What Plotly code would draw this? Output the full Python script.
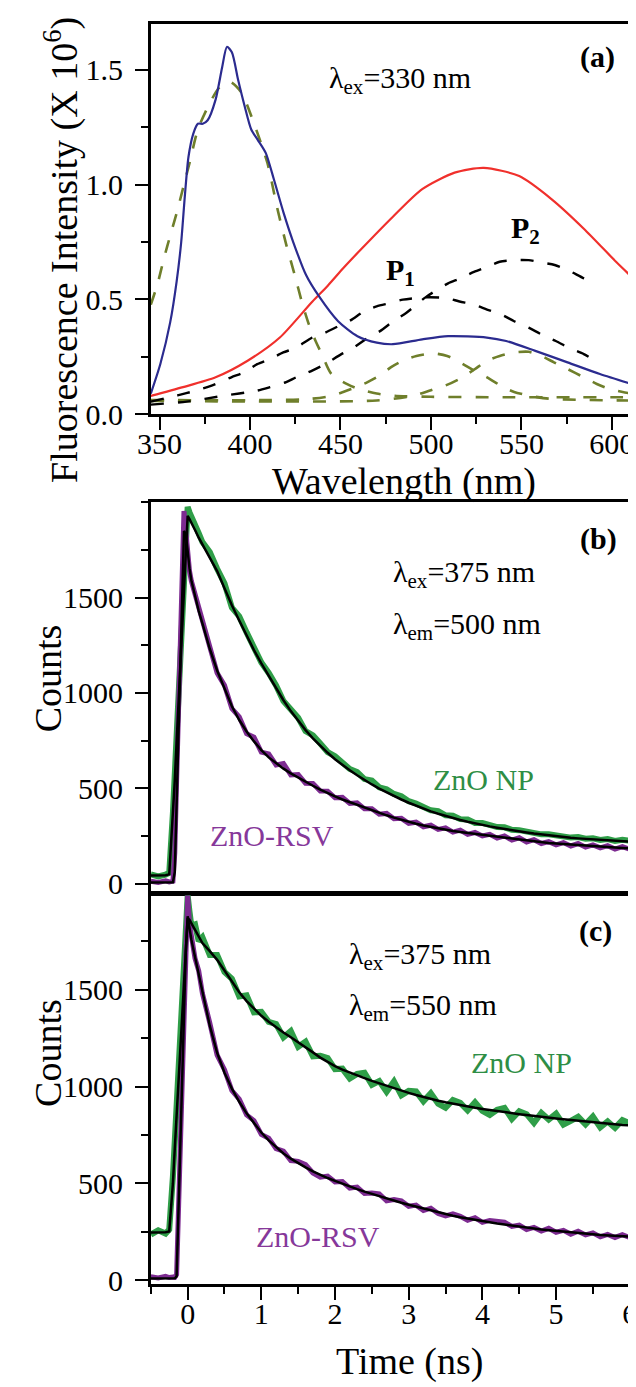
import plotly.graph_objects as go

W, H = 636, 1387


def px(x):
    return x / W


def py(y):
    return 1 - y / H


# ---------------- Panel (a): steady-state emission ----------------
BLUE_X = [345.2, 350.5, 355.9, 359.5, 362.0, 364.0, 366.0, 368.6, 371.2, 373.9, 376.6, 381.0,
          384.6, 387.3, 390.0, 393.5, 397.1, 400.7, 404.2, 408.7, 413.2, 418.5, 423.9, 431.0,
          438.0, 448.7, 459.4, 470.1, 479.0, 495.2, 509.5, 530.9, 541.6, 557.7, 575.5, 593.4, 610.7]
BLUE_Y = [0.09, 0.22, 0.40, 0.58, 0.75, 0.95, 1.12, 1.22, 1.265, 1.265, 1.28, 1.37,
          1.51, 1.60, 1.576, 1.454, 1.34, 1.24, 1.196, 1.138, 1.023, 0.879, 0.75, 0.606,
          0.515, 0.405, 0.34, 0.312, 0.305, 0.326, 0.34, 0.334, 0.319, 0.276, 0.226, 0.175, 0.132]

RED_X = [345.2, 363.0, 381.0, 398.7, 416.5, 434.4, 443.0, 452.0, 461.0, 479.0, 495.2, 513.1,
         529.2, 548.8, 566.6, 584.5, 602.3, 610.7]
RED_Y = [0.08, 0.118, 0.161, 0.233, 0.334, 0.49, 0.56, 0.64, 0.715, 0.86, 0.98, 1.052,
         1.073, 1.037, 0.937, 0.808, 0.664, 0.60]

P1_X = [345.2, 360.0, 370.0, 378.0, 389.7, 397.0, 404.0, 411.0, 418.4, 425.5, 434.4, 441.5,
        450.5, 455.8, 463.0, 470.0, 477.4, 484.5, 497.0, 508.6, 515.8, 523.8, 531.0, 539.0,
        546.0, 554.0, 561.0, 569.0, 576.0, 584.5, 590.7]
P1_Y = [0.055, 0.082, 0.103, 0.122, 0.161, 0.183, 0.218, 0.24, 0.269, 0.29, 0.334, 0.355,
        0.39, 0.41, 0.448, 0.47, 0.484, 0.499, 0.509, 0.506, 0.491, 0.477, 0.456, 0.434,
        0.405, 0.377, 0.348, 0.319, 0.29, 0.262, 0.233]

P2_X = [345.2, 365.0, 385.0, 404.0, 411.0, 420.0, 425.5, 434.4, 441.5, 450.5, 455.8, 466.5,
        471.9, 479.2, 486.3, 497.0, 509.5, 515.8, 523.8, 531.0, 538.0, 546.0, 554.0, 561.0,
        568.4, 575.5, 584.5, 590.7]
P2_Y = [0.042, 0.055, 0.08, 0.103, 0.118, 0.14, 0.161, 0.19, 0.218, 0.262, 0.283, 0.34,
        0.362, 0.405, 0.441, 0.509, 0.57, 0.59, 0.62, 0.642, 0.664, 0.671, 0.671, 0.661,
        0.65, 0.628, 0.592, 0.571]

G1_X = [345.2, 349.0, 352.5, 356.0, 359.6, 363.2, 366.8, 371.2, 377.5, 382.8, 389.0, 395.3,
        402.5, 409.6, 415.0, 420.0, 424.6, 429.0, 432.6, 436.2, 439.8, 445.0, 454.0, 460.0,
        470.0, 480.0, 500.0, 540.0, 580.0, 610.7]
G1_Y = [0.477, 0.57, 0.68, 0.78, 0.88, 0.99, 1.10, 1.24, 1.35, 1.42, 1.447, 1.40,
        1.26, 1.095, 0.90, 0.74, 0.61, 0.48, 0.39, 0.32, 0.26, 0.175, 0.13, 0.11,
        0.09, 0.08, 0.076, 0.074, 0.074, 0.074]

G2_X = [345.2, 430.0, 445.0, 456.0, 465.0, 472.0, 478.0, 485.0, 492.0, 501.0, 509.0, 516.0,
        524.0, 531.0, 540.0, 546.0, 555.0, 565.0, 580.0, 610.7]
G2_Y = [0.062, 0.065, 0.08, 0.11, 0.14, 0.17, 0.205, 0.235, 0.254, 0.265, 0.254, 0.226,
        0.19, 0.161, 0.118, 0.097, 0.08, 0.068, 0.063, 0.06]

G3_X = [345.2, 470.0, 490.0, 500.0, 508.0, 516.0, 524.0, 531.0, 538.0, 546.0, 554.0, 561.0,
        568.0, 575.5, 584.5, 591.7, 598.8, 606.0, 610.7]
G3_Y = [0.058, 0.06, 0.08, 0.105, 0.125, 0.155, 0.195, 0.233, 0.254, 0.269, 0.272, 0.254,
        0.226, 0.197, 0.161, 0.132, 0.11, 0.097, 0.09]

# ---------------- Panels (b), (c): decays ----------------
T = [-0.5, -0.4, -0.3, -0.25, -0.2, -0.175, -0.15, -0.125, -0.1, -0.075, -0.05, -0.025,
     0.0, 0.025, 0.05, 0.1, 0.15, 0.2,
     0.3, 0.4, 0.5, 0.6, 0.7, 0.8, 0.9, 1.0,
     1.1, 1.2, 1.3, 1.4, 1.5, 1.6, 1.7, 1.8, 1.9, 2.0,
     2.1, 2.2, 2.3, 2.4, 2.5, 2.6, 2.7, 2.8, 2.9, 3.0,
     3.1, 3.2, 3.3, 3.4, 3.5, 3.6, 3.7, 3.8, 3.9, 4.0,
     4.1, 4.2, 4.3, 4.4, 4.5, 4.6, 4.7, 4.8, 4.9, 5.0,
     5.1, 5.2, 5.3, 5.4, 5.5, 5.6, 5.7, 5.8, 5.9, 6.0]

GB_DATA = [48, 37, 47, 56, 372, 580, 778, 985, 1182, 1385, 1580, 1785, 1976, 1948, 1922, 1872, 1838, 1792,
           1740, 1652, 1575, 1448, 1402, 1318, 1236, 1160,
           1105, 1040, 958, 918, 870, 800, 778, 735, 690, 668,
           636, 601, 585, 548, 540, 505, 494, 470, 458, 432,
           420, 404, 384, 380, 358, 356, 338, 336, 318, 318,
           306, 296, 295, 282, 280, 270, 268, 258, 258, 250,
           250, 241, 244, 235, 237, 229, 233, 224, 230, 224]
GB_FIT = [42, 42, 43, 48, 340, 540, 740, 940, 1140, 1340, 1540, 1740, 1930, 1912, 1895, 1855, 1815, 1780,
          1715, 1640, 1550, 1460, 1380, 1300, 1225, 1155,
          1090, 1025, 962, 905, 852, 805, 762, 722, 686, 652,
          622, 594, 568, 543, 520, 498, 478, 459, 441, 424,
          408, 393, 379, 366, 354, 343, 333, 324, 315, 307,
          300, 293, 286, 280, 274, 268, 262, 257, 252, 248,
          244, 240, 237, 234, 231, 228, 226, 224, 222, 220]
PB_DATA = [12, 6, 14, 8, 12, 160, 540, 920, 1300, 1700, 1955, 1850, 1722, 1640, 1588, 1518, 1442, 1372,
           1250, 1105, 1040, 918, 875, 786, 768, 690,
           680, 622, 630, 570, 572, 526, 525, 486, 485, 450,
           452, 420, 424, 392, 392, 364, 368, 340, 342, 316,
           322, 298, 306, 284, 292, 270, 280, 258, 268, 250,
           258, 238, 250, 228, 240, 218, 230, 210, 220, 203,
           215, 197, 210, 191, 203, 187, 199, 181, 194, 180]
PB_FIT = [5, 5, 5, 5, 6, 60, 420, 800, 1180, 1560, 1850, 1835, 1740, 1655, 1592, 1505, 1430, 1365,
          1232, 1118, 1022, 930, 858, 798, 746, 700,
          662, 630, 603, 578, 555, 534, 513, 493, 474, 457,
          441, 427, 412, 398, 383, 371, 358, 346, 334, 323,
          314, 305, 297, 290, 283, 276, 270, 265, 260, 255,
          250, 245, 240, 236, 231, 226, 221, 217, 213, 210,
          207, 204, 201, 198, 196, 194, 191, 189, 187, 185]

GC_DATA = [236, 258, 241, 262, 537, 717, 900, 1080, 1262, 1443, 1625, 1806, 1987, 1905, 1832, 1838, 1752, 1772,
           1680, 1680, 1592, 1557, 1466, 1472, 1384, 1386,
           1335, 1324, 1255, 1287, 1206, 1232, 1157, 1160, 1148, 1091,
           1093, 1042, 1066, 1072, 1010, 1029, 974, 1027, 955, 978,
           975, 924, 966, 912, 891, 931, 916, 877, 919, 875,
           854, 881, 890, 833, 873, 858, 813, 864, 830, 861,
           804, 823, 844, 805, 846, 790, 820, 787, 827, 810]
GC_FIT = [247, 247, 248, 252, 500, 680, 860, 1040, 1220, 1400, 1580, 1760, 1870, 1862, 1845, 1805, 1770, 1742,
          1700, 1655, 1600, 1542, 1488, 1442, 1402, 1366,
          1335, 1306, 1280, 1255, 1230, 1204, 1177, 1150, 1126, 1106,
          1088, 1072, 1058, 1044, 1030, 1017, 1004, 992, 980, 968,
          957, 946, 936, 927, 919, 911, 904, 897, 891, 885,
          879, 873, 868, 863, 858, 853, 848, 844, 840, 836,
          832, 828, 824, 820, 816, 812, 808, 805, 802, 800]
PC_DATA = [18, 12, 20, 14, 16, 15, 30, 345, 674, 1002, 1330, 1660, 1987, 1840, 1775, 1662, 1598, 1482,
           1330, 1163, 1088, 980, 936, 854, 825, 753,
           734, 680, 667, 618, 614, 597, 554, 532, 538, 508,
           510, 476, 481, 448, 450, 446, 410, 417, 410, 382,
           388, 360, 372, 345, 332, 343, 330, 310, 323, 299,
           309, 307, 300, 278, 285, 262, 273, 254, 268, 248,
           258, 238, 253, 234, 245, 224, 237, 221, 235, 221]
PC_FIT = [9, 9, 9, 9, 9, 10, 20, 360, 700, 1040, 1380, 1700, 1880, 1815, 1760, 1670, 1580, 1490,
          1315, 1175, 1072, 990, 922, 862, 810, 763,
          722, 686, 655, 628, 604, 583, 562, 544, 528, 513,
          498, 484, 471, 458, 446, 434, 422, 411, 400, 390,
          380, 370, 360, 351, 342, 333, 325, 318, 311, 305,
          299, 293, 288, 282, 277, 272, 267, 262, 258, 254,
          250, 246, 243, 240, 237, 234, 231, 229, 227, 225]

X_TICKS_A = [350, 400, 450, 500, 550, 600]
Y_TICKS_A = [0.0, 0.5, 1.0, 1.5]
Y_TICKS_BC = [0, 500, 1000, 1500]
X_TICKS_C = [0, 1, 2, 3, 4, 5, 6]

# ---------------- styles ----------------
FONT = "Liberation Serif, Times New Roman, serif"
BLUE = "#2b2b8f"
RED = "#f0302c"
OLIVE = "#6f7f2b"
GREEN = "#2f9e48"
PURPLE = "#7d2b91"
GREEN_TXT = "#2e8e45"
PURPLE_TXT = "#86389a"
DASH = "13px,14px"

fig = go.Figure()


def add(x, y, color, width, dash="solid", axis=1, shape="linear"):
    xa = "x" if axis == 1 else "x%d" % axis
    ya = "y" if axis == 1 else "y%d" % axis
    line = dict(color=color, width=width, dash=dash, shape=shape)
    if shape == "spline":
        line["smoothing"] = 0.7
    fig.add_trace(go.Scatter(x=x, y=y, mode="lines", xaxis=xa, yaxis=ya, line=line,
                             hoverinfo="skip", showlegend=False))


# panel a
add(G1_X, G1_Y, OLIVE, 2.6, DASH, 1, "spline")
add(G2_X, G2_Y, OLIVE, 2.6, DASH, 1, "spline")
add(G3_X, G3_Y, OLIVE, 2.6, DASH, 1, "spline")
add(P1_X, P1_Y, "black", 2.4, DASH, 1, "spline")
add(P2_X, P2_Y, "black", 2.4, DASH, 1, "spline")
add(RED_X, RED_Y, RED, 2.2, "solid", 1, "spline")
add(BLUE_X, BLUE_Y, BLUE, 2.2, "solid", 1, "spline")

# panel b
add(T, GB_DATA, GREEN, 6, axis=2)
add(T, PB_DATA, PURPLE, 5, axis=2)
add(T, GB_FIT, "black", 2.5, axis=2)
add(T, PB_FIT, "black", 2.5, axis=2)

# panel c
add(T, GC_DATA, GREEN, 6, axis=3)
add(T, PC_DATA, PURPLE, 5, axis=3)
add(T, GC_FIT, "black", 2.5, axis=3)
add(T, PC_FIT, "black", 2.5, axis=3)

axis_common = dict(showline=True, linecolor="black", linewidth=2.5, mirror=True,
                   showgrid=False, zeroline=False, ticks="outside", ticklen=13,
                   tickwidth=2, tickcolor="black",
                   tickfont=dict(family=FONT, size=30, color="black"))

XD = [px(133), px(629)]

fig.update_layout(
    width=W, height=H, margin=dict(l=0, r=0, t=0, b=0),
    paper_bgcolor="white", plot_bgcolor="white", showlegend=False,
    xaxis=dict(axis_common, domain=XD, range=[345.2, 610.7], anchor="y",
               tickvals=X_TICKS_A, ticklabelstandoff=-12,
               minor=dict(dtick=25, tick0=350, ticks="outside", ticklen=7, tickwidth=2,
                          tickcolor="black", showgrid=False)),
    yaxis=dict(axis_common, domain=[py(411), py(16)], range=[0, 1.70], anchor="x",
               tickvals=Y_TICKS_A, tickformat=".1f", ticklabelstandoff=6,
               minor=dict(dtick=0.25, tick0=0, ticks="outside", ticklen=7, tickwidth=2,
                          tickcolor="black", showgrid=False)),
    xaxis2=dict(axis_common, domain=XD, range=[-0.5, 6.02], anchor="y2",
                ticks="", showticklabels=False),
    yaxis2=dict(axis_common, domain=[py(895), py(500)], range=[-48, 2001], anchor="x2",
                tickvals=Y_TICKS_BC, ticklabelstandoff=6,
                minor=dict(dtick=250, tick0=0, ticks="outside", ticklen=7, tickwidth=2,
                           tickcolor="black", showgrid=False)),
    xaxis3=dict(axis_common, domain=XD, range=[-0.5, 6.02], anchor="y3",
                tickvals=X_TICKS_C, ticklabelstandoff=-12,
                minor=dict(dtick=0.5, tick0=0, ticks="outside", ticklen=7, tickwidth=2,
                           tickcolor="black", showgrid=False)),
    yaxis3=dict(axis_common, domain=[py(1291), py(896)], range=[-20, 1997], anchor="x3",
                tickvals=Y_TICKS_BC, ticklabelstandoff=6,
                minor=dict(dtick=250, tick0=0, ticks="outside", ticklen=7, tickwidth=2,
                           tickcolor="black", showgrid=False)),
)


def note(text, x, y, size=30, color="black", xanchor="left", angle=0, bold=False):
    if bold:
        text = "<b>" + text + "</b>"
    fig.add_annotation(text=text, x=px(x), y=py(y), xref="paper", yref="paper",
                       xanchor=xanchor, yanchor="middle", showarrow=False, textangle=angle,
                       font=dict(family=FONT, size=size, color=color))


# panel labels and texts
note("λ<sub>ex</sub>=330 nm", 315, 73)
note("(a)", 574, 50, bold=True)
note("P<sub>1</sub>", 374, 267, bold=True)
note("P<sub>2</sub>", 503, 225, bold=True)

note("λ<sub>ex</sub>=375 nm", 381, 573)
note("λ<sub>em</sub>=500 nm", 381, 625)
note("(b)", 574, 537, bold=True)
note("ZnO NP", 422, 780, color=GREEN_TXT)
note("ZnO-RSV", 192, 837, color=PURPLE_TXT)

note("λ<sub>ex</sub>=375 nm", 336, 959)
note("λ<sub>em</sub>=550 nm", 336, 1011)
note("(c)", 573, 934, bold=True)
note("ZnO NP", 461, 1067, color=GREEN_TXT)
note("ZnO-RSV", 240, 1243, color=PURPLE_TXT)

# axis titles
note("Fluorescence Intensity (X 10<sup>6</sup>)", 40, 245, size=38, xanchor="center", angle=-90)
note("Wavelength (nm)", 394, 479, size=38, xanchor="center")
note("Counts", 27, 678, size=38, xanchor="center", angle=-90)
note("Counts", 27, 1057, size=38, xanchor="center", angle=-90)
note("Time (ns)", 400, 1369, size=38, xanchor="center")

fig.write_html("out.html")
